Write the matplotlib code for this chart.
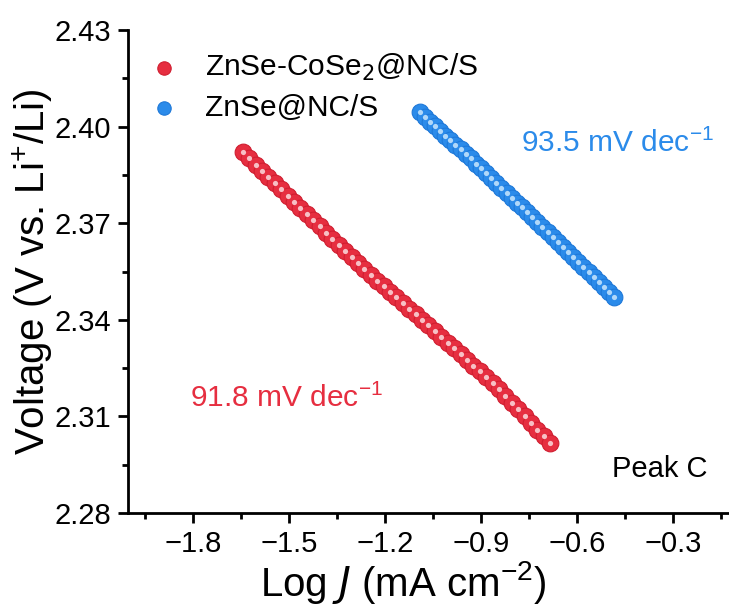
import numpy as np
import matplotlib.pyplot as plt
from matplotlib.ticker import MultipleLocator, FormatStrFormatter

plt.rcParams['font.family'] = ['Liberation Sans', 'DejaVu Sans']
plt.rcParams['axes.unicode_minus'] = True

# ZnSe-CoSe2@NC/S (rojo)
x_red = [-1.644, -1.624, -1.604, -1.584, -1.564, -1.544, -1.524, -1.504, -1.484,
         -1.464, -1.444, -1.424, -1.404, -1.384, -1.364, -1.344, -1.324, -1.304,
         -1.284, -1.264, -1.244, -1.224, -1.204, -1.184, -1.164, -1.144, -1.124,
         -1.104, -1.084, -1.064, -1.044, -1.024, -1.004, -0.984, -0.964, -0.944,
         -0.924, -0.904, -0.884, -0.864, -0.844, -0.824, -0.804, -0.784, -0.764,
         -0.744, -0.724, -0.704, -0.684]
v_red = [2.3921, 2.3902, 2.3882, 2.3863, 2.3843, 2.3824, 2.3805, 2.3785, 2.3766,
         2.3747, 2.3728, 2.3709, 2.3690, 2.3671, 2.3652, 2.3633, 2.3614, 2.3595,
         2.3576, 2.3557, 2.3539, 2.3522, 2.3504, 2.3487, 2.3470, 2.3452, 2.3435,
         2.3417, 2.3400, 2.3383, 2.3365, 2.3347, 2.3329, 2.3311, 2.3293, 2.3276,
         2.3258, 2.3240, 2.3222, 2.3204, 2.3185, 2.3164, 2.3143, 2.3122, 2.3101,
         2.3080, 2.3059, 2.3038, 2.3017]

# ZnSe@NC/S (azul)
x_blue = [-1.092, -1.076, -1.060, -1.044, -1.028, -1.012, -0.996, -0.980, -0.964,
          -0.948, -0.932, -0.916, -0.900, -0.884, -0.868, -0.852, -0.836, -0.820,
          -0.804, -0.788, -0.772, -0.756, -0.740, -0.724, -0.708, -0.692, -0.676,
          -0.660, -0.644, -0.628, -0.612, -0.596, -0.580, -0.564, -0.548, -0.532,
          -0.516, -0.500, -0.484]
v_blue = [2.4044, 2.4029, 2.4015, 2.4001, 2.3987, 2.3972, 2.3958, 2.3944, 2.3930,
          2.3915, 2.3901, 2.3885, 2.3870, 2.3855, 2.3840, 2.3825, 2.3809, 2.3794,
          2.3779, 2.3764, 2.3749, 2.3734, 2.3718, 2.3703, 2.3688, 2.3672, 2.3657,
          2.3641, 2.3626, 2.3610, 2.3595, 2.3579, 2.3564, 2.3548, 2.3533, 2.3517,
          2.3502, 2.3486, 2.3471]

red = '#E62E40'
blue = '#2B8BEA'

fig = plt.figure(figsize=(7.29, 6.05), dpi=100)
ax = fig.add_axes([128 / 729, 92 / 605, 601 / 729, 483 / 605])

# puntos con un pequeño brillo blanco
ax.scatter(x_red, v_red, s=145, color=red, edgecolors='#D01E30', linewidths=0.8,
           zorder=3, label='ZnSe-CoSe$_2$@NC/S')
ax.scatter(x_red, v_red, s=14, color='#F7C0C5', linewidths=0, zorder=4)
ax.scatter(x_blue, v_blue, s=145, color=blue, edgecolors='#1E78D8', linewidths=0.8,
           zorder=3, label='ZnSe@NC/S')
ax.scatter(x_blue, v_blue, s=14, color='#B0D8FA', linewidths=0, zorder=4)

ax.set_xlim(-2.003, -0.125)
ax.set_ylim(2.28, 2.43)
ax.xaxis.set_major_locator(MultipleLocator(0.3))
ax.xaxis.set_minor_locator(MultipleLocator(0.15))
ax.yaxis.set_major_locator(MultipleLocator(0.03))
ax.yaxis.set_minor_locator(MultipleLocator(0.015))
ax.yaxis.set_major_formatter(FormatStrFormatter('%.2f'))
ax.set_xticks([-1.8, -1.5, -1.2, -0.9, -0.6, -0.3])
ax.set_xticklabels(['\u22121.8', '\u22121.5', '\u22121.2', '\u22120.9', '\u22120.6', '\u22120.3'])

for s in ['top', 'right']:
    ax.spines[s].set_visible(False)
for s in ['left', 'bottom']:
    ax.spines[s].set_linewidth(2)
ax.tick_params(which='major', direction='out', length=7, width=2, labelsize=21, pad=5)
ax.tick_params(which='minor', direction='out', length=4, width=2)

ax.set_xlabel('Log $\\it{J}$ (mA cm$^{\\mathregular{\u22122}}$)', fontsize=29)
ax.xaxis.set_label_coords(275 / 601, -0.095)
ax.set_ylabel('Voltage (V vs. Li$^{\\mathregular{+}}$/Li)', fontsize=29, labelpad=0)

ax.text(-0.475, 2.3949, '93.5 mV dec$^{\\mathregular{\u22121}}$', color=blue,
        fontsize=21.5, ha='center', va='center')
ax.text(-1.509, 2.3157, '91.8 mV dec$^{\\mathregular{\u22121}}$', color=red,
        fontsize=21.5, ha='center', va='center')
ax.text(-0.342, 2.2937, 'Peak C', color='black', fontsize=21, ha='center', va='center')

ax.legend(loc='upper left', bbox_to_anchor=(-0.045, 1.022), frameon=False, fontsize=21.5,
          handletextpad=0.4, labelspacing=0.35, markerscale=0.8, borderpad=0.6)

fig.savefig('out.png', dpi=100)
